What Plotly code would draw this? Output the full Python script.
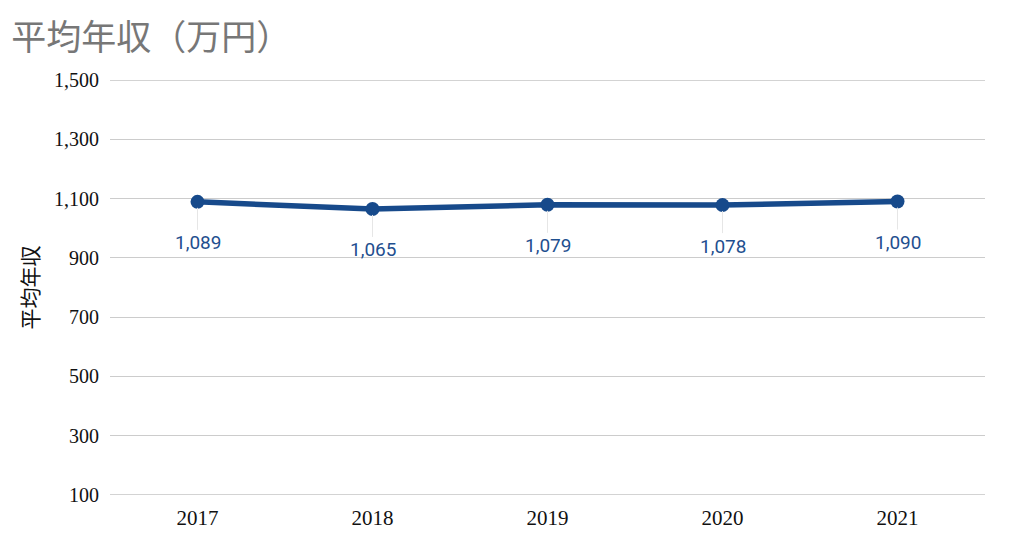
import plotly.graph_objects as go

years = ["2017", "2018", "2019", "2020", "2021"]
income = [1089, 1065, 1079, 1078, 1090]
labels = ["1,089", "1,065", "1,079", "1,078", "1,090"]
y_ticks = [100, 300, 500, 700, 900, 1100, 1300, 1500]

line_color = "#174a8b"
grid_color = "#cccccc"

fig = go.Figure()
fig.add_trace(go.Scatter(
    x=years, y=income, mode="lines+markers",
    line=dict(color=line_color, width=5.5),
    marker=dict(color=line_color, size=14),
    hoverinfo="skip", showlegend=False,
))

for i, (yv, t) in enumerate(zip(income, labels)):
    fig.add_annotation(
        x=i, y=yv, xref="x", yref="y", text=t, showarrow=True, arrowhead=0, arrowwidth=1,
        arrowcolor="#e6e6e6", ax=0, ay=41, standoff=6,
        font=dict(family="Roboto, Noto Sans, sans-serif", size=19, color="#1f4f8f"),
    )

# edge gridlines (plotly hides gridlines on the plot border)
for v in (y_ticks[0], y_ticks[-1]):
    fig.add_shape(type="line", xref="paper", yref="y", x0=0, x1=1, y0=v, y1=v,
                  line=dict(color="#c4c4c4", width=1.3), layer="below")

fig.update_layout(
    width=1024, height=539,
    margin=dict(l=110, r=39, t=80, b=44),
    paper_bgcolor="white", plot_bgcolor="white",
    title=dict(text="平均年収（万円）", x=0.011, xanchor="left", y=0.93, yanchor="middle",
               font=dict(family="Noto Sans CJK JP, sans-serif", size=35, color="#777777")),
    xaxis=dict(type="category", range=[-0.5, 4.5], showgrid=False, zeroline=False,
               showline=False, ticks="", ticklabelstandoff=8, automargin=False,
               tickfont=dict(family="Liberation Serif, serif", size=21, color="#111111")),
    yaxis=dict(range=[100, 1500], tickvals=y_ticks, ticktext=[f"{v:,}" for v in y_ticks],
               showgrid=True, gridcolor=grid_color, gridwidth=1, zeroline=False,
               showline=False, ticks="", ticklen=0, ticklabelstandoff=10, automargin=False,
               title=dict(text="平均年収", standoff=9,
                          font=dict(family="Noto Sans CJK JP, sans-serif", size=21, color="#111111")),
               tickfont=dict(family="Liberation Serif, serif", size=20, color="#111111")),
)

fig.write_html("out.html")
